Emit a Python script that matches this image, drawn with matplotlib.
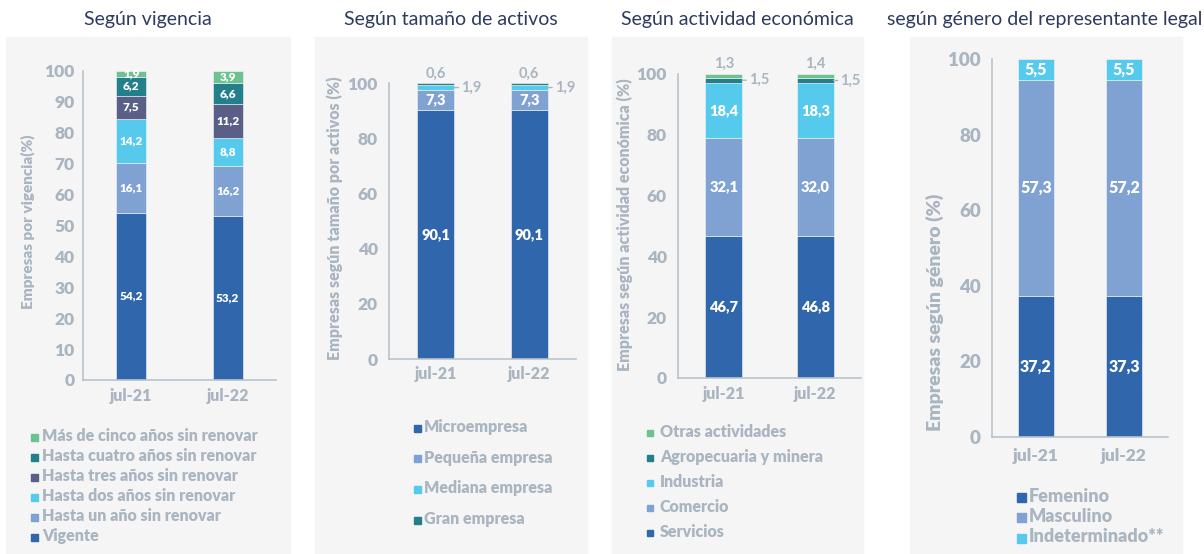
import numpy as np
import matplotlib.pyplot as plt
from matplotlib.patches import Rectangle

plt.rcParams['font.family'] = ['Lato', 'DejaVu Sans']

W, H = 1204, 554

fechas = ['jul-21', 'jul-22']

# Según vigencia (de abajo hacia arriba)
vig_nombres = ['Vigente', 'Hasta un año sin renovar', 'Hasta dos años sin renovar',
               'Hasta tres años sin renovar', 'Hasta cuatro años sin renovar',
               'Más de cinco años sin renovar']
vig_valores = [[54.2, 53.2], [16.1, 16.2], [14.2, 8.8], [7.5, 11.2], [6.2, 6.6], [1.9, 3.9]]

# Según tamaño de activos
tam_nombres = ['Microempresa', 'Pequeña empresa', 'Mediana empresa', 'Gran empresa']
tam_valores = [[90.1, 90.1], [7.3, 7.3], [1.9, 1.9], [0.6, 0.6]]

# Según actividad económica
act_nombres = ['Servicios', 'Comercio', 'Industria', 'Agropecuaria y minera', 'Otras actividades']
act_valores = [[46.7, 46.8], [32.1, 32.0], [18.4, 18.3], [1.5, 1.5], [1.3, 1.4]]

# Según género del representante legal
gen_nombres = ['Femenino', 'Masculino', 'Indeterminado**']
gen_valores = [[37.2, 37.3], [57.3, 57.2], [5.5, 5.5]]

AZUL = '#3067AC'
AZUL_CLARO = '#7FA2D3'
CIAN = '#55CAEC'
PIZARRA = '#5A5F87'
TEAL = '#23808A'
VERDE = '#6CC390'
GRIS = '#A9B5C0'
EJE = '#B9C3CD'
TITULO = '#2D3B5E'
FONDO = '#F5F5F5'
PESO = 'heavy'


def fx(x):
    return x / W


def fy(y):
    return 1 - y / H


def px_axes(fig, l, t, r, b):
    return fig.add_axes([fx(l), fy(b), (r - l) / W, (b - t) / H])


def coma(v):
    return f'{v:.1f}'.replace('.', ',')


def panel(fig, rect, nombres, valores, colores, modos, ticks, ylabel, fs):
    ax = px_axes(fig, *rect)
    ax.set_facecolor('none')
    x = np.arange(len(fechas))
    w = fs['ancho']
    base = np.zeros(len(fechas))
    for nom, vals, col, modo in zip(nombres, valores, colores, modos):
        vals = np.array(vals)
        ax.bar(x, vals, w, bottom=base, color=col, edgecolor=FONDO, linewidth=0.4,
               label=nom, zorder=2)
        for i in range(len(x)):
            mid = base[i] + vals[i] / 2
            if modo == 'in':
                ax.text(x[i], mid, coma(vals[i]), ha='center', va='center', color='white',
                        fontsize=fs['dentro'], fontweight=PESO, zorder=3)
            elif modo == 'top':
                ax.annotate(coma(vals[i]), (x[i], base[i] + vals[i]), xytext=(0, 2),
                            textcoords='offset points', ha='center', va='bottom',
                            color=GRIS, fontsize=fs['fuera'], fontweight='bold',
                            annotation_clip=False)
            elif modo == 'right':
                ax.annotate(coma(vals[i]), (x[i] + w / 2, mid), xytext=(5, 0),
                            textcoords='offset points', ha='left', va='center',
                            color=GRIS, fontsize=fs['fuera'], fontweight='bold',
                            annotation_clip=False,
                            arrowprops=dict(arrowstyle='-', color=GRIS, lw=1,
                                            shrinkA=0, shrinkB=0))
        base += vals
    ax.set_xlim(-0.5, len(fechas) - 0.5)
    ax.set_ylim(0, 100)
    ax.set_yticks(ticks)
    ax.set_xticks(x)
    ax.set_xticklabels(fechas)
    for s in ['top', 'right']:
        ax.spines[s].set_visible(False)
    for s in ['left', 'bottom']:
        ax.spines[s].set_color(EJE)
        ax.spines[s].set_linewidth(1.2)
    ax.tick_params(axis='y', length=0, pad=fs['ypad'], labelsize=fs['ytick'], labelcolor=GRIS)
    ax.tick_params(axis='x', length=0, pad=fs['xpad'], labelsize=fs['xtick'], labelcolor=GRIS)
    for t in ax.get_xticklabels() + ax.get_yticklabels():
        t.set_fontweight(PESO)
    fig.text(fx(fs['ylx']), fy(fs['lly']), ylabel, rotation=90, ha='center', va='center',
             color=GRIS, fontsize=fs['ylab'], fontweight=PESO)
    return ax


def leyenda(fig, nombres, colores, x_mark, x_text, y0, paso, size, fsz):
    for k, (nom, col) in enumerate(zip(nombres, colores)):
        y = y0 + k * paso
        fig.add_artist(Rectangle((fx(x_mark), fy(y + size / 2 + 1)), size / W, size / H,
                                 transform=fig.transFigure, color=col))
        fig.text(fx(x_text), fy(y), nom, ha='left', va='center', color=GRIS,
                 fontsize=fsz, fontweight=PESO)


fig = plt.figure(figsize=(W / 100, H / 100), dpi=100)
fig.patch.set_facecolor('white')

# fondos de los paneles
for l, r in [(6, 290), (315, 587), (612, 863), (910, 1182)]:
    fig.add_artist(Rectangle((fx(l), 0), (r - l) / W, fy(37), transform=fig.transFigure,
                             color=FONDO, zorder=-5))

titulos = [('Según vigencia', 148), ('Según tamaño de activos', 451),
           ('Según actividad económica', 737), ('según género del representante legal', 1045)]
for txt, cx in titulos:
    fig.text(fx(cx), fy(20), txt, ha='center', va='center', color=TITULO, fontsize=14)

# panel 1
panel(fig, (83, 71, 276, 380), vig_nombres, vig_valores,
      [AZUL, AZUL_CLARO, CIAN, PIZARRA, TEAL, VERDE], ['in'] * 6, np.arange(0, 101, 10),
      'Empresas por vigencia(%)',
      dict(ancho=0.31, dentro=8.5, fuera=9, ytick=12.5, xtick=11.5, ypad=6, xpad=6,
           ylab=11, ylx=28, lly=222))
leyenda(fig, vig_nombres[::-1], [VERDE, TEAL, PIZARRA, CIAN, AZUL_CLARO, AZUL],
        31, 42, 436, 20, 7, 11.5)

# panel 2
panel(fig, (389, 83, 576, 359), tam_nombres, tam_valores,
      [AZUL, AZUL_CLARO, CIAN, TEAL], ['in', 'in', 'right', 'top'], np.arange(0, 101, 20),
      'Empresas según tamaño por activos (%)',
      dict(ancho=0.4, dentro=10.5, fuera=10.5, ytick=12.5, xtick=11.5, ypad=8, xpad=5,
           ylab=11.5, ylx=335, lly=218))
leyenda(fig, tam_nombres, [AZUL, AZUL_CLARO, CIAN, TEAL], 414, 424, 427, 30.7, 7, 11.5)

# panel 3
panel(fig, (678, 74, 861, 378), act_nombres, act_valores,
      [AZUL, AZUL_CLARO, CIAN, TEAL, VERDE], ['in', 'in', 'in', 'right', 'top'],
      np.arange(0, 101, 20), 'Empresas según actividad económica (%)',
      dict(ancho=0.4, dentro=10.5, fuera=10.5, ytick=12.5, xtick=11.5, ypad=8, xpad=6,
           ylab=11.5, ylx=625, lly=225))
leyenda(fig, act_nombres[::-1], [VERDE, TEAL, CIAN, AZUL_CLARO, AZUL], 647, 660, 432, 25,
        6, 11.5)

# panel 4
panel(fig, (992, 59, 1168, 437), gen_nombres, gen_valores,
      [AZUL, AZUL_CLARO, CIAN], ['in', 'in', 'in'], np.arange(0, 101, 20),
      'Empresas según género (%)',
      dict(ancho=0.4, dentro=11.5, fuera=10.5, ytick=13.5, xtick=12.5, ypad=8, xpad=8,
           ylab=14, ylx=935, lly=312))
leyenda(fig, gen_nombres, [AZUL, AZUL_CLARO, CIAN], 1017, 1029, 496, 20.5, 9, 13)

fig.savefig('out.png', dpi=100, facecolor='white')
